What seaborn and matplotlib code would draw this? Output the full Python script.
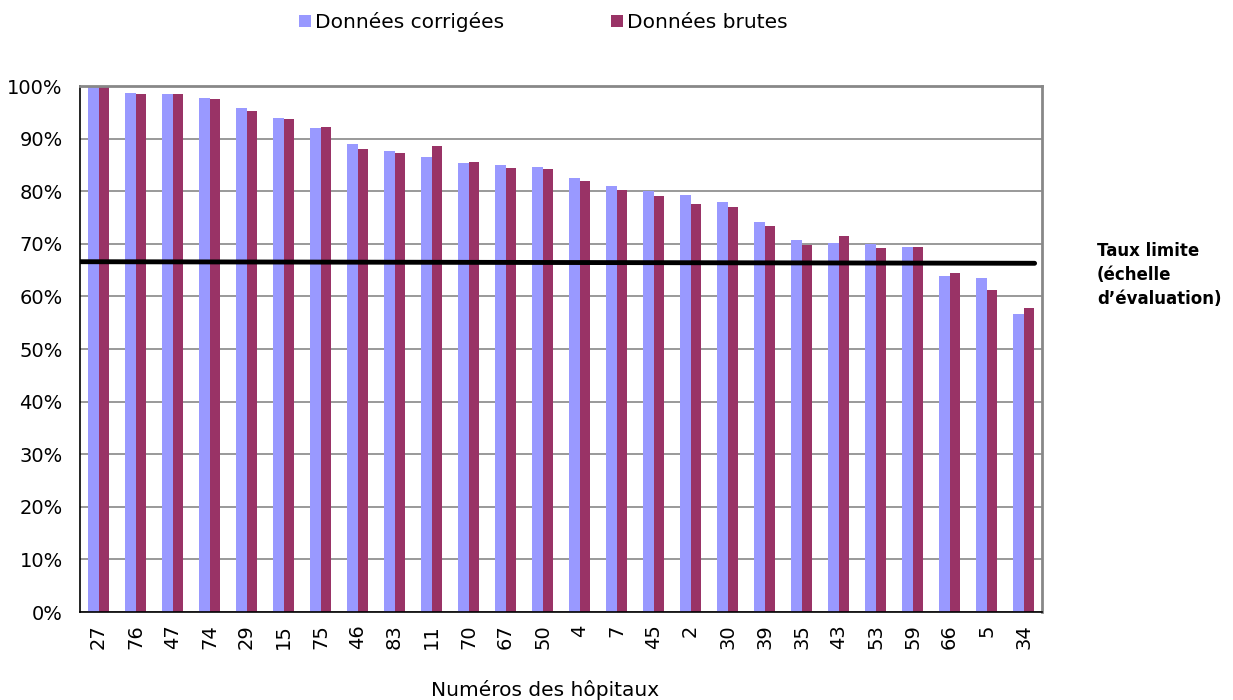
import matplotlib
matplotlib.use("Agg")
import matplotlib.pyplot as plt
from matplotlib.patches import Patch
from matplotlib.ticker import FixedLocator, NullFormatter, PercentFormatter
import pandas as pd
import seaborn as sns

# data
hopitaux = ['27', '76', '47', '74', '29', '15', '75', '46', '83', '11', '70', '67', '50',
            '4', '7', '45', '2', '30', '39', '35', '43', '53', '59', '66', '5', '34']
corrigees = [100.0, 98.6, 98.4, 97.7, 95.8, 93.9, 92.0, 88.9, 87.7, 86.5, 85.4, 85.0, 84.7,
             82.6, 81.0, 80.1, 79.2, 78.0, 74.2, 70.8, 70.2, 70.0, 69.4, 63.8, 63.5, 56.7]
brutes = [100.0, 98.5, 98.4, 97.5, 95.3, 93.7, 92.2, 88.0, 87.3, 88.6, 85.6, 84.4, 84.2,
          82.0, 80.3, 79.1, 77.5, 77.0, 73.4, 69.7, 71.5, 69.3, 69.4, 64.5, 61.2, 57.8]
taux_limite = [66.6, 66.3]  # left end, right end of the threshold line

series = ['Données corrigées', 'Données brutes']
couleurs = ['#9999FF', '#993366']

df = pd.DataFrame({
    'hopital': hopitaux * 2,
    'valeur': corrigees + brutes,
    'serie': [series[0]] * len(hopitaux) + [series[1]] * len(hopitaux),
})

sns.set_style("white")
plt.rcParams['font.family'] = ['DejaVu Sans']
plt.rcParams['text.color'] = 'black'
plt.rcParams['xtick.color'] = 'black'
plt.rcParams['ytick.color'] = 'black'

fig = plt.figure(figsize=(12.33, 7), dpi=100)
ax = fig.add_axes([0.0649, 0.1257, 0.7802, 0.7514])

sns.barplot(data=df, x='hopital', y='valeur', hue='serie', order=hopitaux,
            hue_order=series, palette=couleurs, width=0.57, legend=False, ax=ax,
            saturation=1, errorbar=None, linewidth=0, edgecolor='none')

# threshold line
ax.plot([-0.5, len(hopitaux) - 0.7], taux_limite, color='black', lw=3.5, zorder=5)

ax.set_xlim(-0.5, len(hopitaux) - 0.5)
ax.set_ylim(0, 100)
ax.set_yticks(range(0, 101, 10))
ax.yaxis.set_major_formatter(PercentFormatter(decimals=0))
ax.yaxis.grid(True, color='#888888', lw=1.2)
ax.set_axisbelow(True)

# category ticks at boundaries, labels at centres
ax.xaxis.set_major_locator(FixedLocator([i - 0.5 for i in range(len(hopitaux) + 1)]))
ax.xaxis.set_major_formatter(NullFormatter())
ax.xaxis.set_minor_locator(FixedLocator(range(len(hopitaux))))
ax.set_xticklabels(hopitaux, minor=True, rotation=90, fontsize=14)
ax.tick_params(axis='x', which='major', direction='out', length=6, color='black', width=1)
ax.tick_params(axis='x', which='minor', length=0, pad=9)
ax.tick_params(axis='y', direction='inout', length=7, color='black', width=1, labelsize=14, pad=9)
ax.set_xlabel('')
ax.set_ylabel('')

for side in ['left', 'bottom']:
    ax.spines[side].set_color('black')
    ax.spines[side].set_linewidth(1.2)
for side in ['top', 'right']:
    ax.spines[side].set_color('#888888')
    ax.spines[side].set_linewidth(2)

handles = [Patch(facecolor=c, edgecolor='none') for c in couleurs]
fig.legend(handles, series, loc='center', bbox_to_anchor=(543 / 1233, 1 - 22 / 700),
           ncol=2, frameon=False, fontsize=14.5, handlelength=0.6, handleheight=0.6,
           handletextpad=0.2, columnspacing=5.3)

fig.text(545 / 1233, 1 - 690 / 700, 'Numéros des hôpitaux', ha='center', va='center', fontsize=14.5)
fig.text(1097 / 1233, 1 - 275 / 700, 'Taux limite\n(échelle\nd\u2019évaluation)', ha='left',
         va='center', fontsize=12, fontweight='bold', linespacing=1.45)

fig.savefig('out.png', dpi=100)
